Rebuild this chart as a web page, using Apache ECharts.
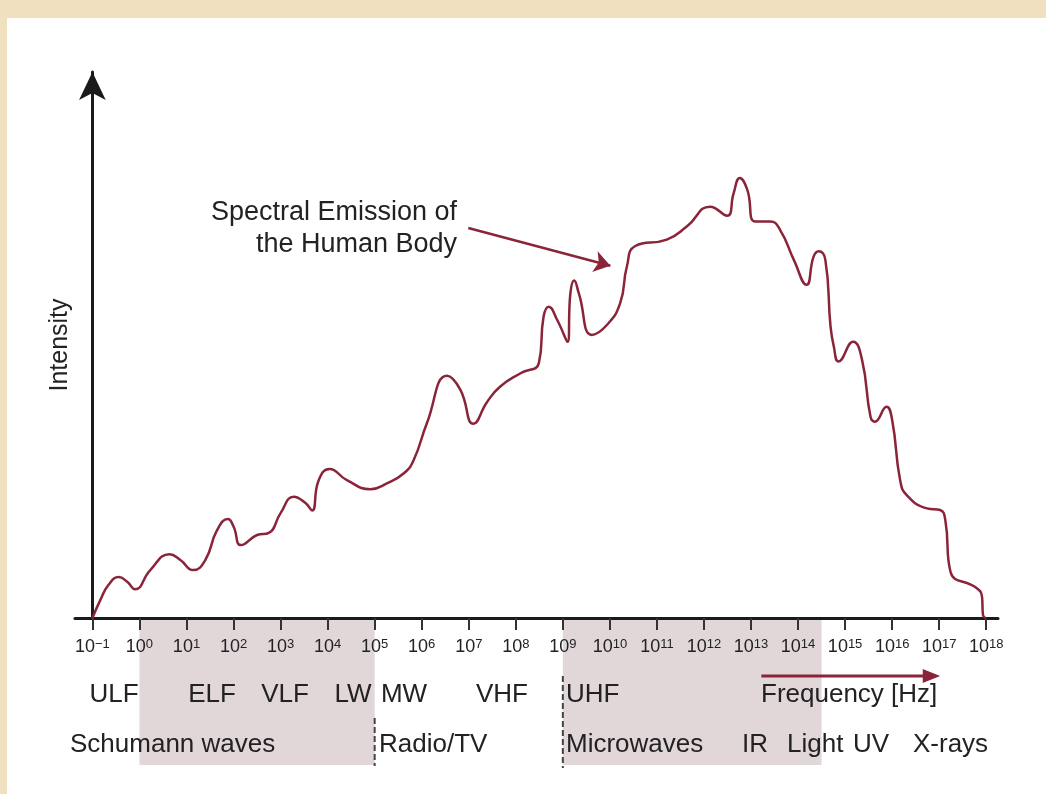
<!DOCTYPE html>
<html>
<head>
<meta charset="utf-8">
<script src="https://cdn.jsdelivr.net/npm/echarts@6/dist/echarts.min.js"></script>
<style>
  html, body { margin: 0; padding: 0; }
  #main { width: 1046px; height: 794px; }
</style>
</head>
<body>
<div id="main"></div>
<script>
// frequency as log10(Hz), intensity in arbitrary units
var logFreq = [-1.00, -0.83, -0.66, -0.44, -0.26, -0.09, 0.23, 0.64, 0.87, 1.14, 1.40, 1.65, 1.88, 2.00, 2.16, 2.50, 2.75, 3.00,
  3.28, 3.53, 3.67, 3.81, 4.04, 4.41, 4.91, 5.26, 5.62, 5.83, 6.11, 6.54, 6.82, 7.10, 7.39, 7.67, 8.10, 8.49, 8.59, 8.70,
  8.88, 9.10, 9.16, 9.24, 9.34, 9.62, 9.94, 10.22, 10.36, 10.54, 11.21, 11.64, 12.13, 12.49, 12.63, 12.76, 12.92, 13.09,
  13.41, 13.62, 13.91, 14.18, 14.33, 14.44, 14.58, 14.69, 14.76, 14.86, 15.17, 15.36, 15.54, 15.63, 15.88, 16.00, 16.17,
  16.31, 16.74, 17.02, 17.13, 17.24, 17.80, 17.91, 17.93, 17.98];
var intensity = [0, 3.4, 6.2, 7.7, 6.8, 5.4, 9.0, 12.0, 10.9, 9.0, 10.9, 16.5, 18.6, 17.2, 13.7, 15.6, 16.0, 19.7,
  22.8, 21.6, 20.2, 25.9, 28.0, 25.9, 24.2, 25.3, 27.2, 29.7, 36.6, 45.5, 42.9, 36.5, 40.6, 43.5, 46.0, 47.9, 56.6, 58.5,
  56.0, 51.9, 61.0, 63.4, 61.0, 53.2, 55.1, 59.2, 66.0, 69.9, 71.1, 73.6, 77.3, 75.6, 79.8, 82.7, 80.5, 74.5,
  74.5, 72.9, 67.3, 62.6, 67.9, 68.9, 67.3, 54.8, 51.0, 48.2, 51.9, 48.5, 37.8, 36.9, 39.7, 37.2, 25.9,
  23.1, 20.6, 20.3, 18.4, 8.7, 5.6, 4.0, 0.6, 0];
var tickExp = [-1, 0, 1, 2, 3, 4, 5, 6, 7, 8, 9, 10, 11, 12, 13, 14, 15, 16, 17, 18];
var shadedBands = [[0, 5], [9, 14.5]];   // log10(Hz) ranges
var dividers = [5, 9];
var pointer = [[6.99, 73.3], [10.01, 66.2]];

var RED = '#8a2438';
var FONT = '"Liberation Sans", Arial, sans-serif';

var seriesData = logFreq.map(function (f, i) { return [f, intensity[i]]; });

var chartDom = document.getElementById('main');
var myChart = echarts.init(chartDom);

var option = {
  animation: false,
  backgroundColor: '#f1e0bf',
  grid: { left: 75, right: 48, top: 72, bottom: 176 },
  xAxis: {
    type: 'value',
    min: -1.37,
    max: 18.25,
    splitLine: { show: false },
    axisLine: { lineStyle: { color: '#1a1a1a', width: 3 } },
    axisTick: { customValues: tickExp, length: 12, lineStyle: { color: '#333', width: 2 } },
    axisLabel: {
      customValues: tickExp,
      margin: 20,
      formatter: function (v) {
        var e = v < 0 ? '\u2212' + (-v) : String(v);
        return '{b|10}{s|' + e + '}';
      },
      rich: {
        b: { fontSize: 18, color: '#222', fontFamily: FONT },
        s: { fontSize: 13, color: '#222', fontFamily: FONT, verticalAlign: 'top' }
      }
    }
  },
  yAxis: {
    type: 'value',
    min: 0,
    max: 102.6,
    offset: -17.4,
    name: 'Intensity',
    nameLocation: 'middle',
    nameRotate: 90,
    nameGap: 20,
    nameTextStyle: { fontSize: 25, color: '#222', fontFamily: FONT },
    splitLine: { show: false },
    axisTick: { show: false },
    axisLabel: { show: false },
    axisLine: {
      show: true,
      onZero: false,
      symbol: ['none', 'arrow'],
      symbolSize: [20, 28],
      lineStyle: { color: '#1a1a1a', width: 3 }
    }
  },
  series: [{
    type: 'line',
    data: seriesData,
    smooth: 0.5,
    showSymbol: false,
    symbol: 'none',
    lineStyle: { color: RED, width: 2.5 },
    z: 5,
    markLine: {
      silent: true,
      symbol: ['none', 'arrow'],
      symbolSize: 16,
      label: { show: false },
      lineStyle: { color: RED, width: 2.5, type: 'solid' },
      data: [[{ coord: pointer[0] }, { coord: pointer[1] }]]
    }
  }]
};
myChart.setOption(option);

// pixel helpers from the axes
var px = function (v) { return myChart.convertToPixel({ gridIndex: 0 }, [v, 0])[0]; };
var y0 = myChart.convertToPixel({ gridIndex: 0 }, [0, 0])[1];

var txt = function (s, x, y, align, size) {
  return {
    type: 'text', x: x, y: y, z: 10,
    style: { text: s, fill: '#222', font: (size || 26) + 'px ' + FONT, textAlign: align || 'left', textVerticalAlign: 'middle' }
  };
};

var graphics = [
  { type: 'rect', z: -100, shape: { x: 7, y: 18, width: 1046, height: 794 }, style: { fill: '#ffffff' } }
];
shadedBands.forEach(function (b) {
  graphics.push({
    type: 'rect', z: -50,
    shape: { x: px(b[0]), y: y0 + 1, width: px(b[1]) - px(b[0]), height: 146 },
    style: { fill: '#e1d7d9' }
  });
});
graphics.push({ type: 'line', z: 5, shape: { x1: px(dividers[0]), y1: y0 + 100, x2: px(dividers[0]), y2: y0 + 148 },
  style: { stroke: '#444', lineWidth: 2, lineDash: [6, 3] } });
graphics.push({ type: 'line', z: 5, shape: { x1: px(dividers[1]), y1: y0 + 58, x2: px(dividers[1]), y2: y0 + 150 },
  style: { stroke: '#444', lineWidth: 2, lineDash: [6, 3] } });

// band labels
graphics.push(txt('ULF', 114, 695, 'center'));
graphics.push(txt('ELF', 212, 695, 'center'));
graphics.push(txt('VLF', 285, 695, 'center'));
graphics.push(txt('LW', 353, 695, 'center'));
graphics.push(txt('MW', 404, 695, 'center'));
graphics.push(txt('VHF', 502, 695, 'center'));
graphics.push(txt('UHF', 566, 695, 'left'));
graphics.push(txt('Frequency [Hz]', 761, 695, 'left'));
graphics.push(txt('Schumann waves', 70, 745, 'left'));
graphics.push(txt('Radio/TV', 379, 745, 'left'));
graphics.push(txt('Microwaves', 566, 745, 'left'));
graphics.push(txt('IR', 742, 745, 'left'));
graphics.push(txt('Light', 787, 745, 'left'));
graphics.push(txt('UV', 853, 745, 'left'));
graphics.push(txt('X-rays', 913, 745, 'left'));

// frequency arrow
graphics.push({ type: 'line', z: 6, shape: { x1: px(13.22), y1: 676, x2: px(16.75), y2: 676 }, style: { stroke: RED, lineWidth: 3 } });
graphics.push({ type: 'polygon', z: 6, shape: { points: [[px(16.65), 669], [px(17.02), 676], [px(16.65), 683]] }, style: { fill: RED } });

// annotation text
graphics.push(txt('Spectral Emission of', 457, 213, 'right', 27));
graphics.push(txt('the Human Body', 457, 245, 'right', 27));

myChart.setOption({ graphic: graphics });
</script>
</body>
</html>
